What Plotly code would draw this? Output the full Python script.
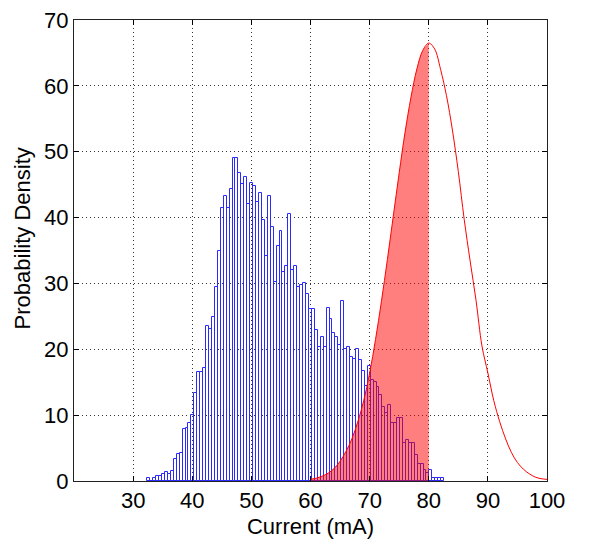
import plotly.graph_objects as go

# ---------------- data ----------------
bin_start = 32.4
bin_width = 0.497
hist_counts = [
    0.4, 0.0, 0.4, 0.7, 0.8, 1.0, 1.3, 1.1, 1.5, 3.3,
    4.1, 4.2, 7.9, 8.1, 8.8, 10.0, 13.4, 16.5, 16.5, 17.1,
    23.6, 23.1, 24.9, 29.4, 34.9, 41.5, 43.3, 41.5, 44.4, 49.1,
    49.1, 46.7, 45.1, 46.1, 42.1, 45.3, 44.8, 42.3, 43.7, 39.7,
    34.2, 43.3, 38.5, 30.2, 35.7, 38.0, 31.8, 32.6, 40.5, 32.1,
    32.7, 29.5, 29.7, 30.0, 28.4, 26.1, 26.1, 22.9, 20.4, 21.8,
    20.4, 26.3, 24.6, 22.5, 21.9, 20.6, 27.3, 20.1, 20.4, 18.9,
    18.5, 20.1, 18.3, 16.7, 14.5, 17.5, 15.4, 15.1, 14.2, 13.0,
    11.2, 10.3, 11.5, 8.8, 8.8, 9.5, 9.5, 5.7, 6.3, 5.7,
    5.7, 4.0, 2.6, 2.6, 1.7, 1.2, 1.7, 0.5, 0.4, 0.4, 0.5,
]

curve_x = list(range(60, 101))
curve_y = [
    0.26, 0.44, 0.75, 1.2, 1.9, 3.0, 4.5, 6.4, 9.0, 12.2,
    16.4, 21.5, 27.3, 33.6, 40.2, 46.8, 53.0, 58.3, 62.6, 65.4,
    66.5,
    65.6, 62.5, 58.5, 53.3, 47.0, 39.7, 33.4, 27.4, 20.5, 16.4,
    12.2, 9.0, 6.4, 4.3, 2.8, 1.8, 1.1, 0.6, 0.35, 0.25,
]
fill_end_x = 80

x_ticks = [30, 40, 50, 60, 70, 80, 90, 100]
y_ticks = [0, 10, 20, 30, 40, 50, 60, 70]
x_title = "Current (mA)"
y_title = "Probability Density"

# ---------------- figure ----------------
centers = [bin_start + (i + 0.5) * bin_width for i in range(len(hist_counts))]
fill_x = [x for x in curve_x if x <= fill_end_x]
fill_y = curve_y[:len(fill_x)]

fig = go.Figure()

fig.add_trace(go.Bar(
    x=centers, y=hist_counts, width=bin_width,
    marker=dict(color="rgba(0,0,0,0)", line=dict(color="#2a2aff", width=1)),
    hoverinfo="skip",
))

fig.add_trace(go.Scatter(
    x=fill_x, y=fill_y, mode="lines", line=dict(width=0, shape="spline"),
    fill="tozeroy", fillcolor="rgba(255,0,0,0.5)", hoverinfo="skip",
))

fig.add_trace(go.Scatter(
    x=curve_x, y=curve_y, mode="lines",
    line=dict(color="#ff0000", width=1, shape="spline"), hoverinfo="skip",
))

axis_common = dict(
    ticks="inside", ticklen=5, tickcolor="black",
    showline=True, linecolor="#222222", linewidth=1, mirror="ticks",
    showgrid=True, griddash="1px,3px", gridcolor="rgba(0,0,0,0.8)", gridwidth=1,
    zeroline=False,
    ticklabeloverflow="allow",
    tickfont=dict(size=22, color="black"),
    title_font=dict(size=22, color="black"),
)

fig.update_layout(
    width=594, height=544,
    margin=dict(l=74, r=47, t=8, b=63),
    paper_bgcolor="white", plot_bgcolor="white",
    font=dict(family="Liberation Sans, Arial, Helvetica, sans-serif", size=22, color="black"),
    showlegend=False, bargap=0,
    xaxis=dict(range=[20, 100], tickmode="array", tickvals=x_ticks,
               title=dict(text=x_title, standoff=6), **axis_common),
    yaxis=dict(range=[0, 70], tickmode="array", tickvals=y_ticks, **axis_common),
    annotations=[dict(
        text=y_title, textangle=-90, showarrow=False,
        xref="paper", yref="paper", x=-0.108, y=0.526,
        xanchor="center", yanchor="middle",
        font=dict(size=22, color="black"),
    )],
)

fig.write_html("out.html")
